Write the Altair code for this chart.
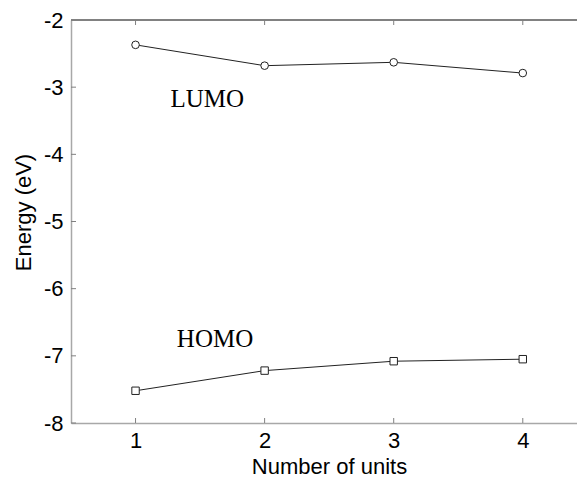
import altair as alt
import pandas as pd

# ---- data ----
units = [1, 2, 3, 4]
lumo = [-2.37, -2.68, -2.63, -2.79]
homo = [-7.52, -7.22, -7.08, -7.05]
label_text = ["LUMO", "HOMO"]
label_x = [1.27, 1.32]
label_y = [-3.30, -6.87]
x_ticks = [1, 2, 3, 4]
y_ticks = [-8, -7, -6, -5, -4, -3, -2]

W, H = 506, 403
xs = alt.Scale(domain=[0.5, 4.42], nice=False, zero=False)
ys = alt.Scale(domain=[-8, -2], nice=False, zero=False)

common = dict(grid=False, ticks=False, domainColor="#a8a8a8", domainWidth=1.5,
              labelFont="Liberation Sans", labelFontSize=22, labelColor="black",
              titleFont="Liberation Sans", titleFontSize=22, titleFontWeight="normal",
              titleColor="black", labelExpr="'' + datum.value")
xaxis = alt.Axis(values=x_ticks, title="Number of units", labelPadding=7, titlePadding=5,
                 titleX=258, **common)
yaxis = alt.Axis(values=y_ticks, title="Energy (eV)", labelPadding=8, titlePadding=8,
                 titleY=192, **common)


def X(field):
    return alt.X(f"{field}:Q", scale=xs, axis=xaxis, title="Number of units")


def Y(field):
    return alt.Y(f"{field}:Q", scale=ys, axis=yaxis, title="Energy (eV)")


lumo_df = pd.DataFrame({"u": units, "e": lumo})
homo_df = pd.DataFrame({"u": units, "e": homo})
lab_df = pd.DataFrame({"u": label_x, "e": label_y, "t": label_text})
xt_df = pd.DataFrame({"u": x_ticks})
yt_df = pd.DataFrame({"e": y_ticks})

lumo_line = alt.Chart(lumo_df).mark_line(color="#222222", strokeWidth=1).encode(x=X("u"), y=Y("e"))
homo_line = alt.Chart(homo_df).mark_line(color="#222222", strokeWidth=1).encode(x=X("u"), y=Y("e"))
lumo_pts = alt.Chart(lumo_df).mark_point(shape="circle", size=58, filled=False, fill="white",
                                         fillOpacity=1, stroke="#222222", strokeWidth=1,
                                         opacity=1).encode(x=X("u"), y=Y("e"))
homo_pts = alt.Chart(homo_df).mark_point(shape="square", size=55, filled=False, fill="white",
                                         fillOpacity=1, stroke="#222222", strokeWidth=1,
                                         opacity=1).encode(x=X("u"), y=Y("e"))
labels = alt.Chart(lab_df).mark_text(font="Liberation Serif", fontSize=25, align="left",
                                     baseline="alphabetic", color="black").encode(
    x=X("u"), y=Y("e"), text="t:N")

top_border = alt.Chart(xt_df).mark_rule(color="#808080", strokeWidth=1.3).encode(
    x=alt.value(0), x2=alt.value(W), y=alt.value(0))
top_ticks = alt.Chart(xt_df).mark_rule(color="#808080").encode(
    x=X("u"), y=alt.value(0), y2=alt.value(5))
bot_ticks = alt.Chart(xt_df).mark_rule(color="#808080").encode(
    x=X("u"), y=alt.value(H), y2=alt.value(H - 5))
left_ticks = alt.Chart(yt_df).mark_rule(color="#808080").encode(
    y=Y("e"), x=alt.value(0), x2=alt.value(5))

chart = alt.layer(top_border, top_ticks, bot_ticks, left_ticks,
                  lumo_line, homo_line, lumo_pts, homo_pts, labels).properties(
    width=W, height=H,
    background="white",
    autosize=alt.AutoSizeParams(type="none"),
    padding={"left": 71, "top": 20, "right": 0, "bottom": 55},
).configure_view(stroke=None)

chart.save("out.html", embed_options={"renderer": "svg", "actions": False})
